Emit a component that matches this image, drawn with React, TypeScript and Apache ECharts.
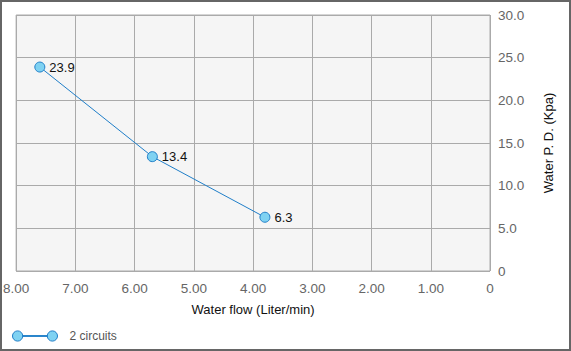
import React, { useEffect, useRef } from "react";
import * as echarts from "echarts";

const seriesName = "2 circuits";
const flowValues = [7.6, 5.7, 3.8];
const pdValues = [23.9, 13.4, 6.3];
const xAxisName = "Water flow (Liter/min)";
const yAxisName = "Water P. D. (Kpa)";

const FONT = "Arial, 'Liberation Sans', sans-serif";
const LINE_COLOR = "#1f7ec8";
const FILL_COLOR = "#7fd2f2";

const legendIcon =
  "path://M0.5,5.5a5,5 0 1,0 10,0a5,5 0 1,0 -10,0Z M10.5,5.1L34.5,5.1L34.5,5.9L10.5,5.9Z M34.5,5.5a5,5 0 1,0 10,0a5,5 0 1,0 -10,0Z";

export default function App() {
  const ref = useRef<HTMLDivElement>(null);
  useEffect(() => {
    document.body.style.margin = "0";
    const chart = echarts.init(ref.current!, null, { renderer: "svg" });
    chart.setOption({
      animation: false,
      backgroundColor: "#ffffff",
      textStyle: { fontFamily: FONT },
      graphic: [
        {
          type: "rect",
          shape: { x: 1, y: 1, width: 569, height: 349 },
          style: { fill: "none", stroke: "#666", lineWidth: 2 },
          silent: true,
          z: 100,
        },
      ],
      grid: {
        left: 16,
        right: 81,
        top: 15,
        bottom: 80,
        show: true,
        backgroundColor: "#f5f5f5",
        borderColor: "#aaaaaa",
        borderWidth: 1,
      },
      legend: {
        left: 7,
        top: 325,
        icon: legendIcon,
        itemWidth: 45,
        itemHeight: 11,
        itemStyle: { color: FILL_COLOR, borderColor: LINE_COLOR, borderWidth: 1 },
        textStyle: { fontSize: 12, color: "#555", fontFamily: FONT, padding: [0, 0, 0, 7] },
        data: [seriesName],
      },
      xAxis: {
        type: "value",
        inverse: true,
        min: 0,
        max: 8,
        interval: 1,
        name: xAxisName,
        nameLocation: "middle",
        nameGap: 32,
        nameTextStyle: { fontSize: 13, color: "#111", fontFamily: FONT },
        axisLine: { show: false },
        axisTick: { show: false },
        axisLabel: {
          fontSize: 13.5,
          color: "#666",
          margin: 10,
          fontFamily: FONT,
          formatter: (v: number) => (v === 0 ? "0" : v.toFixed(2)),
        },
        splitLine: { show: true, lineStyle: { color: "#aaaaaa", width: 1 } },
      },
      yAxis: {
        type: "value",
        position: "right",
        min: 0,
        max: 30,
        interval: 5,
        name: yAxisName,
        nameLocation: "middle",
        nameGap: 52,
        nameRotate: 90,
        nameTextStyle: { fontSize: 13, color: "#111", fontFamily: FONT },
        axisLine: { show: false },
        axisTick: { show: false },
        axisLabel: {
          fontSize: 13.5,
          color: "#666",
          margin: 8,
          fontFamily: FONT,
          formatter: (v: number) => (v === 0 ? "0" : v.toFixed(1)),
        },
        splitLine: { show: true, lineStyle: { color: "#aaaaaa", width: 1 } },
      },
      series: [
        {
          name: seriesName,
          type: "line",
          data: flowValues.map((x, i) => [x, pdValues[i]]),
          symbol: "circle",
          symbolSize: 10,
          lineStyle: { color: LINE_COLOR, width: 1 },
          itemStyle: { color: FILL_COLOR, borderColor: LINE_COLOR, borderWidth: 1 },
          label: {
            show: true,
            position: "right",
            distance: 4,
            fontSize: 13,
            color: "#111",
            fontFamily: FONT,
            formatter: (p: any) => p.value[1].toFixed(1),
          },
        },
      ],
    });
    return () => chart.dispose();
  }, []);
  return <div ref={ref} style={{ width: 571, height: 351 }} />;
}
